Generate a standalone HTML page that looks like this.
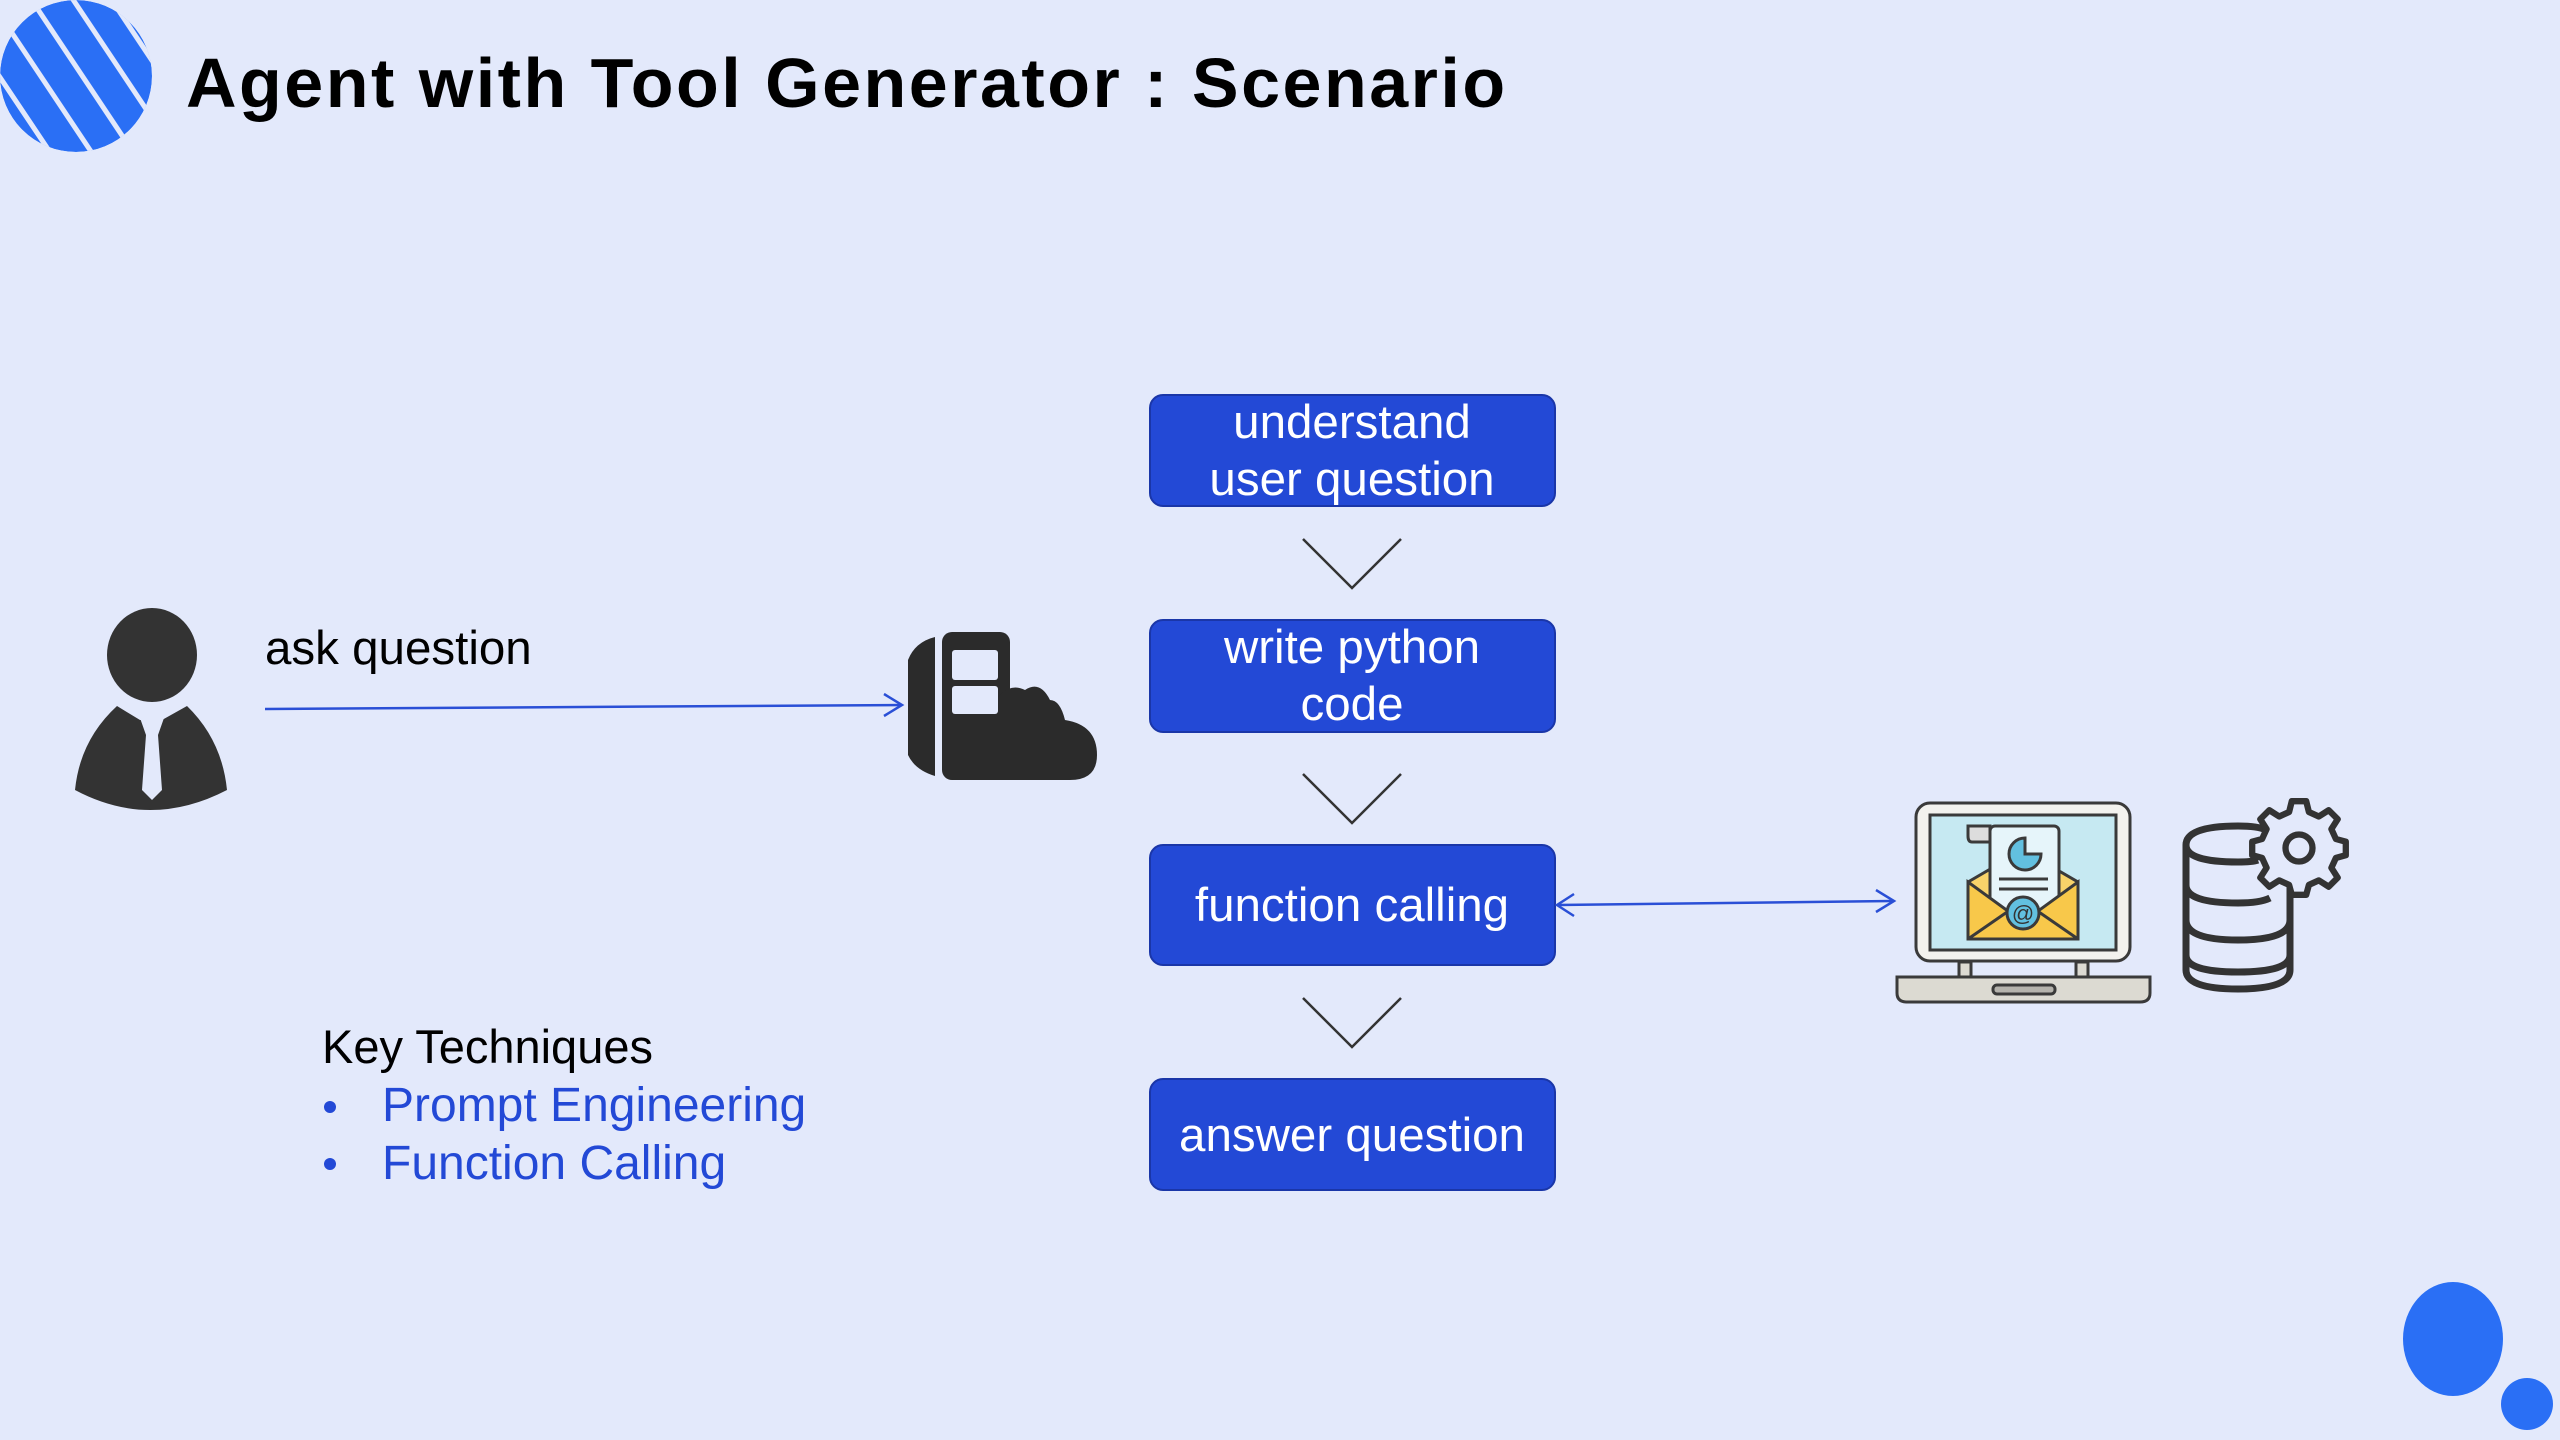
<!DOCTYPE html>
<html><head><meta charset="utf-8"><style>
html,body{margin:0;padding:0;background:#e3e9fb;}
svg{display:block}
text{font-family:"Liberation Sans",Arial,sans-serif}
</style></head><body>
<svg width="2560" height="1440" viewBox="0 0 2560 1440" xmlns="http://www.w3.org/2000/svg">
<rect width="2560" height="1440" fill="#e3e9fb"/>
<defs>
<clipPath id="lc"><circle cx="76" cy="76" r="76"/></clipPath>
</defs>
<g clip-path="url(#lc)">
<circle cx="76" cy="76" r="76" fill="#2a6ff5"/>
<g stroke="#e3e9fb" stroke-width="5">
<line x1="-60" y1="50" x2="60" y2="230"/>
<line x1="-45" y1="10" x2="90" y2="212"/>
<line x1="-30" y1="-30" x2="120" y2="195"/>
<line x1="-5" y1="-55" x2="145" y2="170"/>
<line x1="20" y1="-80" x2="170" y2="145"/>
<line x1="45" y1="-100" x2="195" y2="125"/>
</g>
</g>
<text x="186" y="107" font-size="70" font-weight="bold" letter-spacing="2.5" fill="#000">Agent with Tool Generator : Scenario</text>

<g fill="#2349d6" stroke="#1a36a8" stroke-width="2">
<rect x="1150" y="395" width="405" height="111" rx="13"/>
<rect x="1150" y="620" width="405" height="112" rx="13"/>
<rect x="1150" y="845" width="405" height="120" rx="13"/>
<rect x="1150" y="1079" width="405" height="111" rx="13"/>
</g>
<g fill="#fff" font-size="47.5" text-anchor="middle">
<text x="1352" y="438">understand</text>
<text x="1352" y="495">user question</text>
<text x="1352" y="663">write python</text>
<text x="1352" y="720">code</text>
<text x="1352" y="921">function calling</text>
<text x="1352" y="1151">answer question</text>
</g>
<g fill="none" stroke="#333" stroke-width="2.5">
<polyline points="1303,539 1352,588 1401,539"/>
<polyline points="1303,774 1352,823 1401,774"/>
<polyline points="1303,998 1352,1047 1401,998"/>
</g>

<g fill="#333">
<ellipse cx="152" cy="655" rx="45" ry="47"/>
<path d="M117,706 Q80,740 75,790 Q150,830 227,790 Q222,740 187,706 L162,720 L140,720 Z"/>
</g>
<path d="M140,718 L164,718 L158,735 L162,790 L152,800 L142,790 L146,735 Z" fill="#e3e9fb"/>
<text x="265" y="664" font-size="47.5" fill="#000">ask question</text>
<line x1="265" y1="709" x2="900" y2="705" stroke="#2a4fd6" stroke-width="2.5"/>
<polyline points="884,694 902,705 884,716" fill="none" stroke="#2a4fd6" stroke-width="2.5"/>

<g fill="#2b2b2b">
<path d="M935,637 L935,776 Q915,770 908,755 L908,660 Q915,642 935,637 Z"/>
<rect x="942" y="632" width="68" height="148" rx="10"/>
<path d="M990,780 L990,710 Q1005,680 1025,690 Q1040,680 1050,700 Q1060,700 1065,720 Q1097,725 1097,755 Q1097,780 1070,780 Z"/>
</g>
<rect x="952" y="650" width="46" height="30" fill="#e3e9fb" rx="3"/>
<rect x="952" y="686" width="46" height="28" fill="#e3e9fb" rx="3"/>

<line x1="1558" y1="905" x2="1892" y2="901" stroke="#2a4fd6" stroke-width="2.5"/>
<polyline points="1574,894 1557,905 1574,916" fill="none" stroke="#2a4fd6" stroke-width="2.5"/>
<polyline points="1876,890 1894,901 1876,912" fill="none" stroke="#2a4fd6" stroke-width="2.5"/>

<g stroke="#3a3a3a" stroke-width="3">
<rect x="1916" y="803" width="214" height="158" rx="14" fill="#f3f2ee"/>
<rect x="1930" y="815" width="186" height="135" fill="#c6e9f2"/>
<rect x="1959" y="962" width="12" height="15" fill="#dcdad2"/>
<rect x="2076" y="962" width="12" height="15" fill="#dcdad2"/>
<path d="M1897,977 L2150,977 L2150,993 Q2150,1002 2140,1002 L1907,1002 Q1897,1002 1897,993 Z" fill="#dcdad2"/>
<rect x="1993" y="985" width="62" height="9" rx="4" fill="#b5b3ad"/>
<path d="M1968,882 L2023,850 L2078,882 L2078,939 L1968,939 Z" fill="#f8d36a"/>
<rect x="1990" y="826" width="69" height="90" rx="5" fill="#e6f5fa"/>
<path d="M1968,826 L1990,826 L1990,842 L1972,842 Q1968,842 1968,836 Z" fill="#ddd"/>
<path d="M1968,882 L2023,922 L2078,882 L2078,939 L1968,939 Z" fill="#f8c84a"/>
<line x1="1968" y1="939" x2="2010" y2="910"/>
<line x1="2078" y1="939" x2="2036" y2="910"/>
<circle cx="2023" cy="913" r="16" fill="#62c0e0"/>
<path d="M2025,838 A16,16 0 1 0 2041,854 L2025,854 Z" fill="#62c0e0"/>
<line x1="1999" y1="879" x2="2048" y2="879"/>
<line x1="1999" y1="889" x2="2048" y2="889"/>
</g>
<text x="2023" y="921" font-size="22" text-anchor="middle" fill="#333">@</text>

<g fill="none" stroke="#333" stroke-width="7">
<path d="M2186,845 L2186,970 Q2186,989 2238,989 Q2290,989 2290,970 L2290,885"/>
<path d="M2186,845 Q2186,826 2238,826 Q2258,826 2266,830"/>
<path d="M2186,845 Q2186,862 2238,862 Q2252,862 2258,860"/>
<path d="M2186,885 Q2186,903 2238,903 Q2260,903 2270,898"/>
<path d="M2186,920 Q2186,940 2238,940 Q2290,940 2290,920"/>
<path d="M2186,955 Q2186,972 2238,972 Q2290,972 2290,955"/>
</g>
<g transform="translate(2299,848) scale(0.9)" fill="#e3e9fb" stroke="#333" stroke-width="7">
<path d="M-8,-42 L8,-42 L11,-30 L22,-25 L33,-32 L43,-22 L36,-11 L41,0 L52,3 L52,18 L41,21 L36,32 L43,43 L33,53 L22,46 L11,51 L8,62 L-8,62 L-11,51 L-22,46 L-33,53 L-43,43 L-36,32 L-41,21 L-52,18 L-52,3 L-41,0 L-36,-11 L-43,-22 L-33,-32 L-22,-25 L-11,-30 Z" stroke-linejoin="round" transform="translate(0,-10)"/>
<circle cx="0" cy="0" r="15"/>
</g>

<text x="322" y="1063" font-size="47" fill="#000">Key Techniques</text>
<g fill="#2349d6" font-size="48">
<circle cx="330" cy="1107" r="6"/>
<text x="382" y="1121">Prompt Engineering</text>
<circle cx="330" cy="1164" r="6"/>
<text x="382" y="1179">Function Calling</text>
</g>

<ellipse cx="2453" cy="1339" rx="50" ry="57" fill="#2a6ff5"/>
<circle cx="2527" cy="1404" r="26" fill="#2a6ff5"/>
</svg>
</body></html>
